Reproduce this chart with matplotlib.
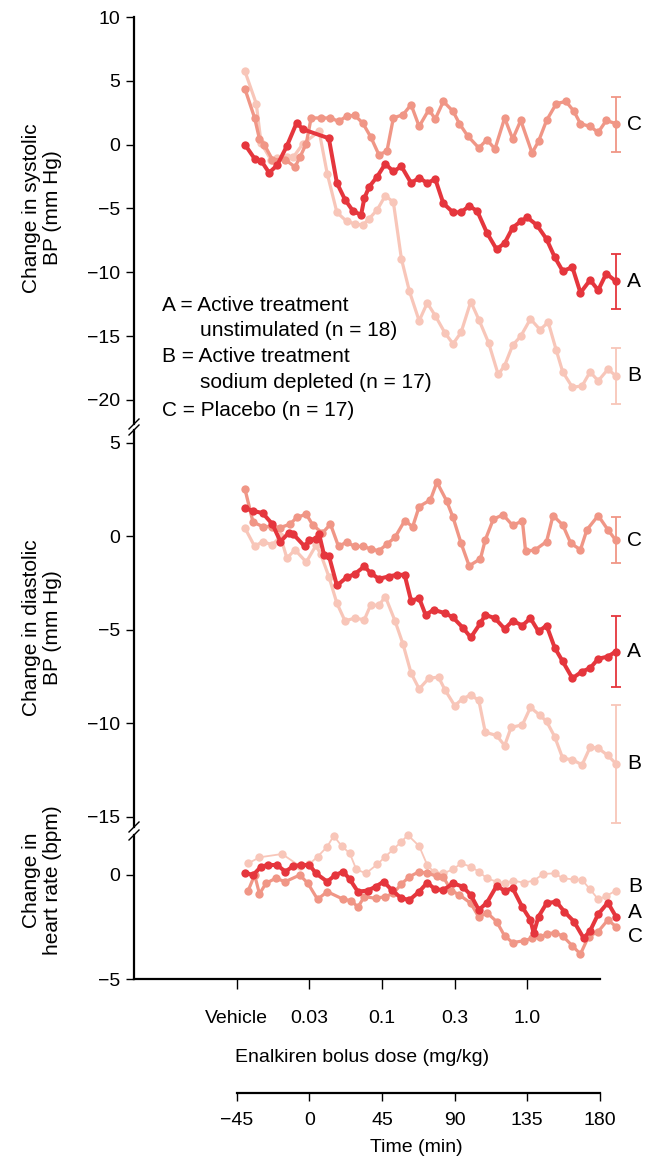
import numpy as np
import matplotlib.pyplot as plt
from matplotlib.lines import Line2D

plt.rcParams['font.family'] = ['Liberation Sans', 'DejaVu Sans']

W, H = 659, 1160
COL_A = '#e5363d'
COL_C = '#f09686'
COL_B = '#f8c6b9'

# systolic BP change (mm Hg) vs time (min)
sys_a_t = [-40, -34, -30, -25, -20, -14, -8, -4, 12, 17, 22, 27, 32, 34, 37, 42, 47, 52, 57, 63,
           68, 73, 78, 83, 89, 94, 99, 104, 110, 116, 121, 126, 131, 135, 141, 147, 152, 157, 163, 168,
           174, 179, 184, 190]
sys_a = [0.0, -1.1, -1.25, -2.2, -1.6, -0.1, 1.7, 1.2, 0.5, -3.0, -4.3, -5.2, -5.5, -4.2, -3.3, -2.5,
         -1.5, -2.1, -1.7, -3.0, -2.6, -3.0, -2.7, -4.6, -5.3, -5.3, -4.8, -5.2, -6.9, -8.2, -7.7, -6.5,
         -6.0, -5.7, -6.3, -7.4, -8.8, -9.9, -9.6, -11.6, -10.6, -11.4, -10.1, -10.7]
sys_b_t = [-40, -33, -30, -24, -20, -14, -10, -4, 6, 11, 17, 23, 28, 33, 37, 42, 47, 52, 57, 62,
           68, 73, 78, 84, 89, 94, 100, 105, 111, 117, 121, 126, 131, 137, 143, 148, 153, 157, 163, 169,
           174, 179, 185, 190]
sys_b = [5.74, 3.21, 0.13, -1.17, -1.05, -0.97, -0.97, 0.08, 1.04, -2.27, -5.3, -6.0, -6.2, -6.3, -5.8,
         -5.1, -4.0, -4.5, -8.95, -11.5, -13.8, -12.4, -13.4, -14.75, -15.6, -14.7, -12.3, -13.7, -15.5,
         -18.0, -17.3, -15.7, -15.0, -13.65, -14.5, -13.9, -16.1, -17.8, -19.0, -18.9, -17.8, -18.5,
         -17.6, -18.1]
sys_c_t = [-40, -34, -31, -28, -23, -15, -9, -6, -2, 1, 7, 13, 18, 23, 28, 33, 38, 43, 48, 52,
           58, 63, 68, 74, 78, 83, 89, 93, 98, 105, 110, 115, 121, 126, 131, 138, 142, 147, 153, 159,
           164, 168, 174, 179, 184, 190]
sys_c = [4.36, 2.09, 0.44, 0.0, -1.17, -1.17, -1.75, -1.0, 0.08, 2.09, 2.09, 2.09, 1.83, 2.22, 2.3,
         1.7, 0.6, -0.78, -0.52, 2.09, 2.35, 3.13, 1.43, 2.74, 2.01, 3.39, 2.61, 1.64, 0.7, -0.26, 0.39,
         -0.34, 2.09, 0.44, 1.9, -0.65, 0.26, 1.9, 3.21, 3.39, 2.61, 1.64, 1.43, 0.96, 1.9, 1.64]

# diastolic BP change (mm Hg)
dia_a_t = [-40, -35, -29, -23, -18, -13, -10, -3, 0, 4, 6, 9, 12, 17, 23, 28, 34, 38, 43, 49,
           54, 59, 63, 68, 72, 77, 84, 89, 95, 100, 106, 109, 115, 121, 126, 132, 137, 142, 147, 152,
           157, 163, 169, 174, 179, 185, 190]
dia_a = [1.51, 1.37, 1.25, 0.66, -0.27, 0.18, 0.12, -0.53, -0.18, -0.12, 0.12, -0.98, -1.02, -2.62,
         -2.19, -2.01, -1.6, -1.96, -2.26, -2.14, -2.05, -2.05, -3.44, -3.3, -4.19, -3.92, -4.1, -4.33,
         -4.87, -5.4, -4.63, -4.19, -4.37, -4.94, -4.51, -4.76, -4.37, -5.08, -4.76, -5.94, -6.68,
         -7.58, -7.22, -7.04, -6.54, -6.42, -6.15]
dia_b_t = [-40, -34, -29, -23, -18, -14, -9, -2, 4, 7, 12, 17, 22, 28, 34, 38, 43, 47, 53, 58,
           63, 68, 74, 80, 84, 90, 95, 100, 105, 109, 116, 121, 125, 132, 137, 143, 147, 152, 157, 163,
           169, 174, 179, 185, 190]
dia_b = [0.45, -0.53, -0.27, -0.45, 0.0, -1.16, -0.71, -1.37, -0.48, -0.95, -2.14, -3.57, -4.51, -4.37,
         -4.45, -3.65, -3.69, -3.21, -4.51, -5.76, -7.31, -8.15, -7.58, -7.52, -8.2, -9.04, -8.68, -8.47,
         -8.77, -10.47, -10.64, -11.18, -10.21, -10.07, -9.14, -9.57, -9.89, -10.7, -11.86, -11.94,
         -12.21, -11.27, -11.32, -11.71, -12.15]
dia_c_t = [-40, -35, -29, -23, -18, -12, -8, -2, 2, 8, 13, 18, 23, 28, 33, 38, 43, 48, 53, 59,
           64, 68, 75, 79, 85, 89, 94, 99, 106, 109, 114, 120, 126, 132, 134, 140, 147, 151, 157, 162,
           168, 172, 179, 185, 190]
dia_c = [2.53, 0.77, 0.53, 0.53, 0.48, 0.66, 1.02, 1.19, 0.62, 0.18, 0.66, -0.53, -0.3, -0.53, -0.53,
         -0.66, -0.77, -0.41, -0.05, 0.84, 0.53, 1.6, 1.96, 2.9, 1.91, 1.02, -0.36, -1.57, -1.19, -0.18,
         0.93, 1.16, 0.59, 0.84, -0.8, -0.71, -0.27, 1.12, 0.62, -0.36, -0.71, 0.36, 1.12, 0.36, -0.21]

# heart rate change (bpm)
hr_a_t = [-40, -35, -30, -26, -20, -15, -10, -5, 0, 4, 11, 16, 21, 25, 30, 36, 41, 46, 51, 57,
          62, 68, 73, 78, 83, 89, 95, 100, 105, 110, 116, 121, 126, 132, 137, 139, 142, 147, 153, 158,
          164, 170, 174, 179, 185, 190]
hr_a = [0.11, 0.0, 0.4, 0.48, 0.48, 0.16, 0.43, 0.48, 0.48, 0.08, -0.32, 0.0, 0.16, -0.21, -0.8, -0.75,
        -0.56, -0.32, -0.72, -1.12, -1.2, -0.8, -0.37, -0.69, -0.72, -0.4, -0.56, -0.96, -1.68, -1.33,
        -0.53, -0.75, -0.64, -1.55, -2.16, -2.8, -2.0, -1.36, -1.28, -1.76, -2.24, -3.04, -2.68, -1.88,
        -1.33, -2.0]
hr_b_t = [-38, -31, -17, -6, 0, 5, 11, 15, 20, 25, 29, 35, 42, 47, 52, 57, 61, 68, 73, 77,
          83, 89, 94, 100, 105, 110, 116, 121, 126, 133, 139, 145, 152, 157, 164, 169, 174, 179, 184, 190]
hr_b = [0.56, 0.85, 1.01, 0.43, 0.53, 0.88, 1.36, 1.88, 1.39, 1.04, 0.27, 0.08, 0.51, 0.88, 1.24, 1.6,
        1.92, 1.39, 0.48, 0.16, 0.08, 0.27, 0.56, 0.4, 0.16, -0.16, -0.32, -0.4, -0.27, -0.37, -0.27,
        0.05, 0.08, -0.16, -0.21, -0.24, -0.69, -1.17, -1.01, -0.75]
hr_c_t = [-38, -34, -31, -27, -21, -15, -6, -1, 5, 11, 21, 26, 30, 34, 41, 47, 52, 57, 62, 68,
          73, 79, 83, 88, 93, 100, 105, 110, 116, 121, 126, 133, 138, 143, 147, 152, 157, 163, 168, 173,
          179, 185, 190]
hr_c = [-0.75, 0.0, -0.91, -0.4, -0.16, -0.32, 0.0, -0.4, -1.17, -0.8, -1.17, -1.23, -1.55, -1.04,
        -1.12, -1.04, -0.88, -0.43, -0.08, 0.16, 0.08, -0.05, -0.11, -0.75, -0.96, -1.36, -2.03, -1.81,
        -2.24, -2.93, -3.25, -3.16, -3.04, -3.0, -2.84, -2.77, -2.93, -3.41, -3.8, -2.96, -2.72, -2.16,
        -2.48]

# final-point error bars (mean, half-width) per panel, order A, B, C
sys_err = [(-10.7, 2.15), (-18.1, 2.2), (1.6, 2.15)]
dia_err = [(-6.15, 1.9), (-12.15, 3.15), (-0.2, 1.23)]

dose_ticks = [-45, 0, 45, 90, 135]
dose_labels = ['Vehicle', '0.03', '0.1', '0.3', '1.0']
time_ticks = [-45, 0, 45, 90, 135, 180]

XLIM = (-108.8, 195)
FS = 14

fig = plt.figure(figsize=(W / 100, H / 100), dpi=100)


def panel(top, bottom, ylim, yticks):
    ax = fig.add_axes([134 / W, 1 - bottom / H, 490 / W, (bottom - top) / H])
    ax.set_xlim(*XLIM)
    ax.set_ylim(*ylim)
    ax.patch.set_visible(False)
    for s in ['top', 'right', 'bottom']:
        ax.spines[s].set_visible(False)
    ax.spines['left'].set_linewidth(1.6)
    ax.set_yticks(yticks)
    ax.set_xticks([])
    ax.tick_params(axis='y', direction='out', length=6, width=1, labelsize=FS, pad=4)
    return ax


def series(ax, t, v, color, lw, ms, z):
    ax.plot(t, v, '-o', color=color, lw=lw, ms=ms, mew=0, zorder=z, clip_on=False)


ax1 = panel(17, 424, (-21.88, 10), [10, 5, 0, -5, -10, -15, -20])
ax2 = panel(430, 827, (-15.535, 5.695), [5, 0, -5, -10, -15])
ax3 = panel(835, 979, (-5, 1.923), [0, -5])

series(ax1, sys_b_t, sys_b, COL_B, 2.3, 6.0, 2)
series(ax1, sys_c_t, sys_c, COL_C, 2.4, 6.0, 3)
series(ax1, sys_a_t, sys_a, COL_A, 2.9, 6.0, 4)
series(ax2, dia_b_t, dia_b, COL_B, 2.3, 6.0, 2)
series(ax2, dia_c_t, dia_c, COL_C, 2.4, 6.0, 3)
series(ax2, dia_a_t, dia_a, COL_A, 2.9, 6.0, 4)
series(ax3, hr_b_t, hr_b, COL_B, 1.3, 6.0, 2)
series(ax3, hr_c_t, hr_c, COL_C, 2.3, 6.0, 3)
series(ax3, hr_a_t, hr_a, COL_A, 2.9, 6.0, 4)

# error bars and end labels
for ax, errs in [(ax1, sys_err), (ax2, dia_err)]:
    for (m, e), col, lab in zip(errs, [COL_A, COL_B, COL_C], 'ABC'):
        ax.errorbar([190], [m], yerr=[e], color=col, lw=1.3, capsize=3.5, capthick=1.3,
                    fmt='none', zorder=1, clip_on=False)
        ax.text(197, m, lab, fontsize=FS + 1, va='center', ha='left')
for y, lab in [(887, 'B'), (913, 'A'), (937, 'C')]:
    fig.text(628 / W, 1 - y / H, lab, fontsize=FS + 1, va='center', ha='left')

# bottom spine with dose ticks
ax3.spines['bottom'].set_visible(True)
ax3.spines['bottom'].set_linewidth(1.6)
ax3.spines['bottom'].set_bounds(XLIM[0], 180)
ax3.set_xticks(dose_ticks)
ax3.set_xticklabels(dose_labels)
ax3.tick_params(axis='x', direction='out', length=7, width=1, labelsize=FS, pad=15)

# separate time axis underneath
axt = fig.add_axes([134 / W, 1 - 1093 / H, 490 / W, 1 / H])
axt.set_xlim(*XLIM)
axt.patch.set_visible(False)
for s in ['top', 'right', 'left']:
    axt.spines[s].set_visible(False)
axt.spines['bottom'].set_linewidth(1.6)
axt.spines['bottom'].set_bounds(-45, 180)
axt.set_yticks([])
axt.set_xticks(time_ticks)
axt.tick_params(axis='x', direction='out', length=6, width=1, labelsize=FS, pad=8)

fig.text(362 / W, 1 - 1058 / H, 'Enalkiren bolus dose (mg/kg)', fontsize=FS, ha='center', va='center')
fig.text(416 / W, 1 - 1148 / H, 'Time (min)', fontsize=FS, ha='center', va='center')

# y-axis titles
for y, txt in [(208, 'Change in systolic\nBP (mm Hg)'),
               (628, 'Change in diastolic\nBP (mm Hg)'),
               (880, 'Change in\nheart rate (bpm)')]:
    fig.text(42 / W, 1 - y / H, txt, fontsize=FS + 1, rotation=90, ha='center', va='center',
             multialignment='center', linespacing=1.1)

# legend text
for x, y, txt in [(162, 305, 'A = Active treatment'), (200, 330, 'unstimulated (n = 18)'),
                  (162, 357, 'B = Active treatment'), (200, 383, 'sodium depleted (n = 17)'),
                  (162, 410, 'C = Placebo (n = 17)')]:
    fig.text(x / W, 1 - y / H, txt, fontsize=FS + 1, ha='left', va='center')

# axis break marks
for y in [424, 430, 827, 835]:
    fig.add_artist(Line2D([129 / W, 139 / W], [1 - (y + 5) / H, 1 - (y - 5) / H],
                          color='black', lw=1.0))

fig.savefig('out.png', dpi=100)
